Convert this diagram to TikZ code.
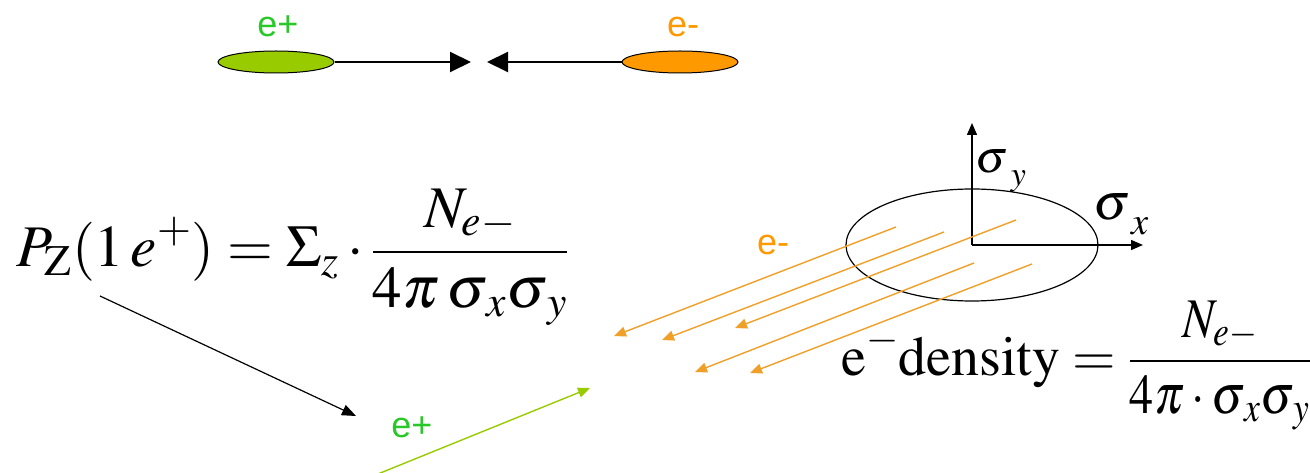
\documentclass[tikz,border=0pt]{standalone}
\usepackage{mathptmx}
\usepackage{graphicx}
\usepackage[no-math]{fontspec}
\setmainfont{Liberation Serif}
\setsansfont{Liberation Sans}
\usetikzlibrary{shapes.geometric,arrows.meta}
\definecolor{lblgreen}{RGB}{40,200,40}
\definecolor{beamgreen}{RGB}{153,204,0}
\definecolor{beamorange}{RGB}{255,153,0}
\definecolor{rayorange}{RGB}{240,160,40}
\begin{document}
\begin{tikzpicture}[x=1pt,y=-1pt,
  bunch/.style={ellipse,draw=black,line width=1pt,minimum width=116pt,minimum height=22pt,inner sep=0pt},
  lbl/.style={font=\sffamily\fontsize{36}{40}\selectfont,anchor=base,inner sep=0pt},
  bigarrow/.style={line width=2pt,-{Triangle[length=21pt,width=20pt]}},
  ray/.style={line width=1.4pt,-{Triangle[length=12pt,width=10pt]}},
  axisline/.style={line width=1.4pt,-{Triangle[length=12pt,width=10pt]}},
  formula/.style={anchor=base west,inner sep=0pt},
  ]
\useasboundingbox (0,0) rectangle (1310,473);
% colliding bunches
\node[bunch,fill=beamgreen] (pos) at (276,62) {};
\node[bunch,fill=beamorange] (ele) at (680,62) {};
\node[lbl,text=lblgreen] (posl) at (278,37) {e+};
\node[lbl,text=beamorange] (elel) at (683,37) {e-};
\coordinate (tipR) at (471,62);
\coordinate (tipL) at (487,62);
\draw[bigarrow] (pos.east) -- (tipR);
\draw[bigarrow] (ele.west) -- (tipL);
% formula 1
\node[formula,font=\fontsize{59}{70}\selectfont] (pz) at (16,267)
  {$\displaystyle P_{\mathrm{Z}}(1\,e^{+})=\Sigma_z\cdot\frac{N_{e-}}{4\pi\,\sigma_{\,x}\sigma_{\,y}}$};
\coordinate (ptail) at (100,296);
\coordinate (phead) at (356,416);
\draw[ray,black,line width=1.2pt,-{Triangle[length=14pt,width=11pt]}] (ptail) -- (phead);
% positron
\coordinate (gtail) at (368,478);
\coordinate (ghead) at (590,388);
\draw[ray,draw=beamgreen,fill=beamgreen] (gtail) -- (ghead);
\node[lbl,text=lblgreen] (posl2) at (412,437) {e+};
% electron beam spot
\node[ellipse,draw,line width=1.2pt,minimum width=252pt,minimum height=112pt,inner sep=0pt] (spot) at (972,245) {};
\coordinate (ytip) at (972,123);
\coordinate (xtip) at (1143,245);
\draw[axisline] (spot.center) -- (ytip);
\draw[axisline] (spot.center) -- (xtip);
\node[formula,font=\fontsize{46}{56}\selectfont] (sy) at (975,173)
  {$\sigma\kern3pt\lower13pt\hbox{$\scriptstyle y$}$};
\node[formula,font=\fontsize{52}{60}\selectfont] (sx) at (1093,220)
  {$\sigma\kern1pt\lower15pt\hbox{$\scriptstyle x$}$};
% electron rays
\coordinate (r1s) at (896,227); \coordinate (r1e) at (614,336);
\coordinate (r2s) at (944,232); \coordinate (r2e) at (662,340);
\coordinate (r3s) at (1016,220); \coordinate (r3e) at (735,328);
\coordinate (r4s) at (974,263); \coordinate (r4e) at (695,372);
\coordinate (r5s) at (1032,264); \coordinate (r5e) at (750,373);
\foreach \i in {1,...,5}
  \draw[ray,draw=rayorange,fill=rayorange] (r\i s) -- (r\i e);
\node[lbl,text=beamorange] (elel2) at (773,255) {e-};
% formula 2
\node[formula,font=\fontsize{56}{68}\selectfont] (dens) at (841,375)
  {$\displaystyle\mathrm{e}^{-}\mathrm{density}=\scalebox{0.86}[1]{$\displaystyle\frac{N_{e-}}{4\pi\cdot\sigma_{\,x}\sigma_{\,y}}$}$};
\end{tikzpicture}
\end{document}
